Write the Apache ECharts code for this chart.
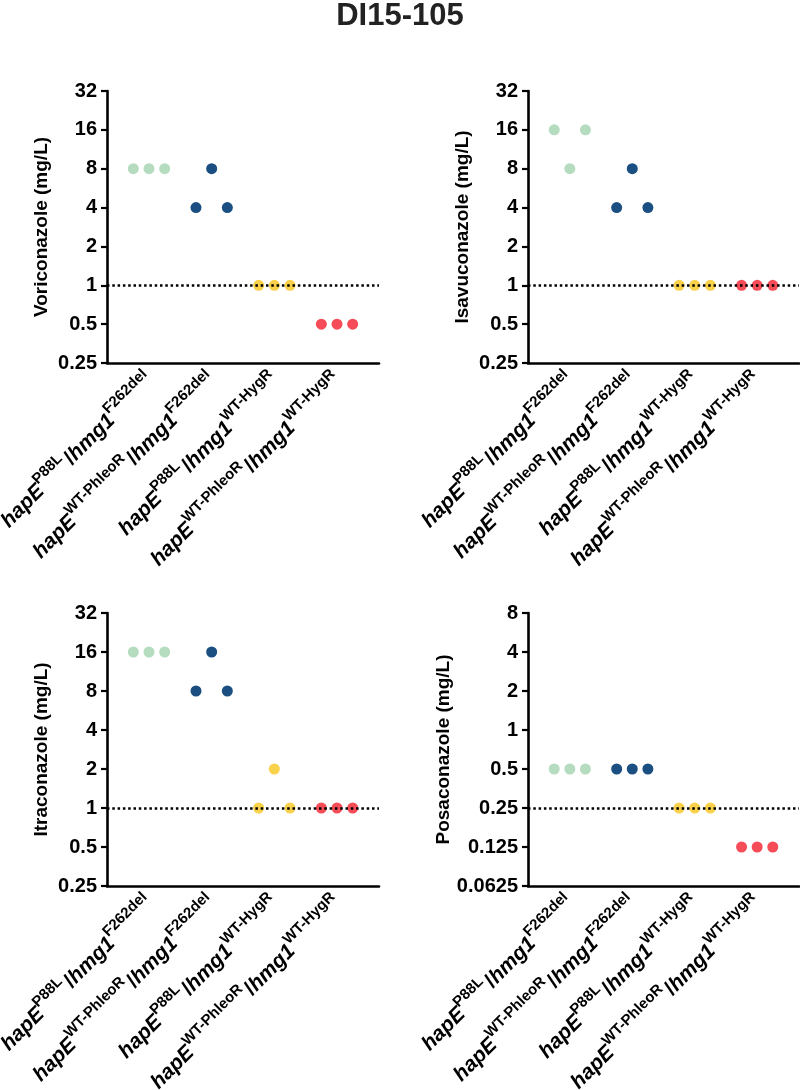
<!DOCTYPE html>
<html>
<head>
<meta charset="utf-8">
<script src="https://cdn.jsdelivr.net/npm/echarts@6/dist/echarts.min.js"></script>
<style>
html,body{margin:0;padding:0;background:#fff;}
#chart{width:800px;height:1090px;}
</style>
</head>
<body>
<div id="chart"></div>
<script>
// ---- data ----
const title = 'DI15-105';
// category label parts: [gene1, superscript1, gene2, superscript2]
const catParts = [
  ['hapE', 'P88L', 'hmg1', 'F262del'],
  ['hapE', 'WT-PhleoR', 'hmg1', 'F262del'],
  ['hapE', 'P88L', 'hmg1', 'WT-HygR'],
  ['hapE', 'WT-PhleoR', 'hmg1', 'WT-HygR']
];
const groupColors = ['#b6dcbf', '#1b4f82', '#f9d14b', '#f64c57'];
const jitter = [-0.25, 0, 0.25];

const drugNames = ['Voriconazole (mg/L)', 'Isavuconazole (mg/L)', 'Itraconazole (mg/L)', 'Posaconazole (mg/L)'];
const breakpoints = [1, 1, 1, 0.25];

const ticksVori = [0.25, 0.5, 1, 2, 4, 8, 16, 32];
const tickLabelsVori = ['0.25', '0.5', '1', '2', '4', '8', '16', '32'];
const ticksIsa = [0.25, 0.5, 1, 2, 4, 8, 16, 32];
const tickLabelsIsa = ['0.25', '0.5', '1', '2', '4', '8', '16', '32'];
const ticksItra = [0.25, 0.5, 1, 2, 4, 8, 16, 32];
const tickLabelsItra = ['0.25', '0.5', '1', '2', '4', '8', '16', '32'];
const ticksPosa = [0.0625, 0.125, 0.25, 0.5, 1, 2, 4, 8];
const tickLabelsPosa = ['0.0625', '0.125', '0.25', '0.5', '1', '2', '4', '8'];

// MIC values per group (3 replicates each)
const vori = [[8, 8, 8], [4, 8, 4], [1, 1, 1], [0.5, 0.5, 0.5]];
const isa  = [[16, 8, 16], [4, 8, 4], [1, 1, 1], [1, 1, 1]];
const itra = [[16, 16, 16], [8, 16, 8], [1, 2, 1], [1, 1, 1]];
const posa = [[0.5, 0.5, 0.5], [0.5, 0.5, 0.5], [0.25, 0.25, 0.25], [0.125, 0.125, 0.125]];

// ---- build ----
const panels = [
  {name: drugNames[0], vals: vori, ticks: ticksVori, labels: tickLabelsVori, bp: breakpoints[0], grid: {left: 107, top: 91, width: 272, height: 272}},
  {name: drugNames[1], vals: isa,  ticks: ticksIsa,  labels: tickLabelsIsa,  bp: breakpoints[1], grid: {left: 528, top: 91, width: 271, height: 272}},
  {name: drugNames[2], vals: itra, ticks: ticksItra, labels: tickLabelsItra, bp: breakpoints[2], grid: {left: 107, top: 613, width: 272, height: 273}},
  {name: drugNames[3], vals: posa, ticks: ticksPosa, labels: tickLabelsPosa, bp: breakpoints[3], grid: {left: 528, top: 613, width: 271, height: 273}}
];

const FONT = 'Arial, "Liberation Sans", Helvetica, sans-serif';
const catRich = catParts.map(p => `{m|${p[0]}}{s|${p[1]}}{r|/}{m|${p[2]}}{s|${p[3]}}`);

const grids = [], xAxes = [], yAxes = [], series = [];
panels.forEach((pn, i) => {
  grids.push(Object.assign({containLabel: false, outerBoundsMode: 'none'}, pn.grid));
  xAxes.push({
    type: 'value', gridIndex: i, min: 0.33, max: 4.67,
    axisLine: {show: true, onZero: false, lineStyle: {color: '#000', width: 2.6}},
    axisTick: {show: false},
    splitLine: {show: false},
    axisLabel: {
      customValues: [1, 2, 3, 4],
      rotate: 45, margin: 13, color: '#000', fontFamily: FONT,
      formatter: v => catRich[Math.round(v) - 1] || '',
      rich: {
        m: {fontSize: 21, fontWeight: 'bold', fontStyle: 'italic', fontFamily: FONT, color: '#000', verticalAlign: 'bottom', lineHeight: 27},
        r: {fontSize: 21, fontWeight: 'bold', fontFamily: FONT, color: '#000', verticalAlign: 'bottom', lineHeight: 27, padding: [0, 0, 0, 2]},
        s: {fontSize: 15, fontWeight: 'bold', fontFamily: FONT, color: '#000', verticalAlign: 'top', lineHeight: 15}
      }
    }
  });
  const labelMap = {};
  pn.ticks.forEach((t, k) => { labelMap[t] = pn.labels[k]; });
  yAxes.push({
    type: 'log', logBase: 2, gridIndex: i,
    min: pn.ticks[0], max: pn.ticks[pn.ticks.length - 1],
    name: pn.name, nameLocation: 'middle', nameGap: 56, nameRotate: 90,
    nameTextStyle: {fontSize: 19, fontWeight: 'bold', color: '#000', fontFamily: FONT},
    axisLine: {show: true, onZero: false, lineStyle: {color: '#000', width: 2.6}},
    axisTick: {show: true, length: 6, customValues: pn.ticks, lineStyle: {color: '#000', width: 2.2}},
    minorTick: {show: false},
    splitLine: {show: false},
    axisLabel: {
      customValues: pn.ticks, margin: 10, fontSize: 20, fontWeight: 'bold', color: '#000', fontFamily: FONT,
      formatter: v => {
        let best = pn.ticks[0];
        pn.ticks.forEach(t => { if (Math.abs(Math.log2(t) - Math.log2(v)) < Math.abs(Math.log2(best) - Math.log2(v))) best = t; });
        return labelMap[best];
      }
    }
  });
  // breakpoint dotted line
  series.push({
    type: 'scatter', xAxisIndex: i, yAxisIndex: i, data: [], z: 1, silent: true,
    markLine: {
      silent: true, symbol: ['none', 'none'], animation: false,
      label: {show: false},
      lineStyle: {color: '#000', width: 2.5, type: [2.5, 2.8]},
      data: [{yAxis: pn.bp}]
    }
  });
  pn.vals.forEach((grp, g) => {
    series.push({
      type: 'scatter', xAxisIndex: i, yAxisIndex: i, z: 3,
      symbol: 'circle', symbolSize: 11,
      itemStyle: {color: groupColors[g], opacity: 1},
      data: grp.map((v, k) => [g + 1 + jitter[k], v]),
      animation: false
    });
  });
});

const chart = echarts.init(document.getElementById('chart'), null, {renderer: 'canvas'});
chart.setOption({
  backgroundColor: '#fff',
  animation: false,
  title: {text: title, left: 'center', top: -4, textStyle: {fontSize: 31, fontWeight: 'bold', color: '#222', fontFamily: FONT}},
  grid: grids, xAxis: xAxes, yAxis: yAxes, series: series
});
</script>
</body>
</html>
